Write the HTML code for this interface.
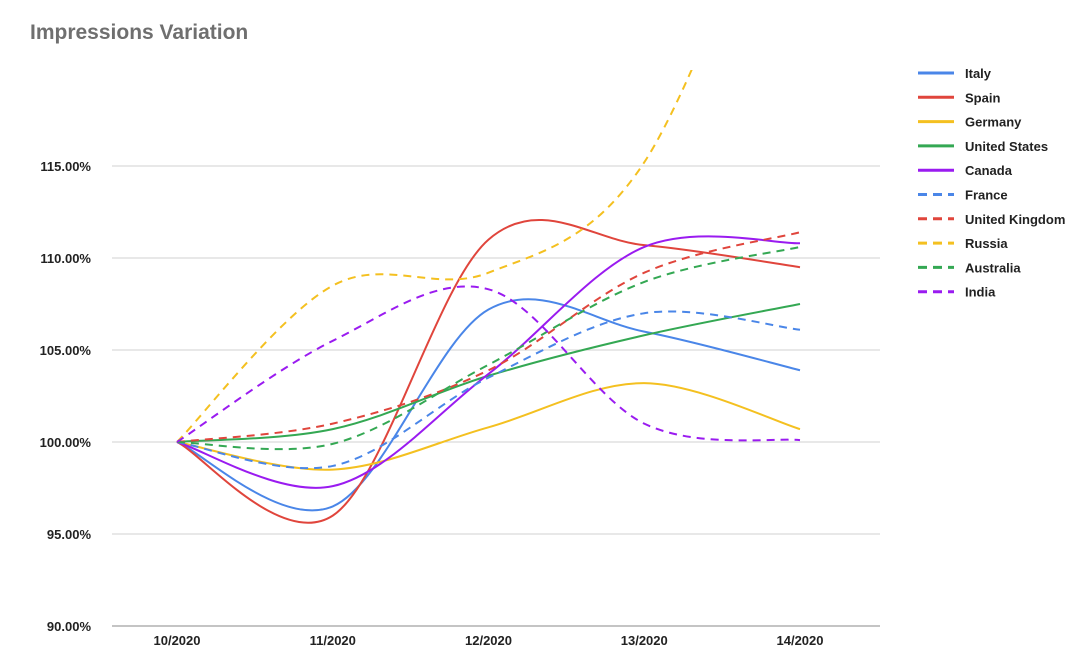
<!DOCTYPE html>
<html><head><meta charset="utf-8"><style>
body{margin:0;background:#fff;font-family:"Liberation Sans",Arial,sans-serif}
svg text{font-family:"Liberation Sans",Arial,sans-serif}
</style></head><body>
<svg id="chart" width="1092" height="661" viewBox="0 0 1092 661">
<defs><clipPath id="plotClip"><rect x="112" y="70" width="768" height="560"/></clipPath></defs>
<text x="30" y="39" font-size="21" font-weight="bold" fill="#6f6f6f">Impressions Variation</text>
<g id="grid"></g><g id="series" clip-path="url(#plotClip)"></g><g id="legend"></g>
</svg>
<script>
const categories=["10/2020","11/2020","12/2020","13/2020","14/2020"];
const seriesNames=["Italy","Spain","Germany","United States","Canada","France","United Kingdom","Russia","Australia","India"];
const italy=[100,96.5,107.2,106.0,103.9];
const spain=[100,96.0,111.0,110.7,109.5];
const germany=[100,98.5,100.8,103.2,100.7];
const unitedStates=[100,100.7,103.6,105.8,107.5];
const canada=[100,97.6,103.7,110.6,110.8];
const france=[100,98.7,103.5,107.0,106.1];
const unitedKingdom=[100,101.0,103.9,109.2,111.4];
const russia=[100,108.5,109.2,115.2,135];
const australia=[100,99.9,104.2,108.7,110.6];
const india=[100,105.5,108.3,101.0,100.1];
const yTicks=[90,95,100,105,110,115];
const colors=["#4a86e8","#e0453c","#f4c020","#34a853","#9a1bf0","#4a86e8","#e0453c","#f4c020","#34a853","#9a1bf0"];
const dashed=[false,false,false,false,false,true,true,true,true,true];
const allSeries=[italy,spain,germany,unitedStates,canada,france,unitedKingdom,russia,australia,india];
const NS="http://www.w3.org/2000/svg";
const xScale=i=>177+i*155.75;
const yScale=v=>442-(v-100)*18.4;
function mk(tag,attrs,parent){const e=document.createElementNS(NS,tag);for(const k in attrs)e.setAttribute(k,attrs[k]);parent.appendChild(e);return e;}
const grid=document.getElementById('grid');
yTicks.forEach(t=>{
  const l=mk('line',{x1:112,x2:880,y1:yScale(t),y2:yScale(t),stroke:t===90?'#888':'#d0d0d0','stroke-width':1},grid);
  
  
  const tx=mk('text',{x:91,y:yScale(t)+5,'text-anchor':'end','font-size':13,'font-weight':'bold',fill:'#222'},grid);
  tx.textContent=t.toFixed(2)+'%';
  
  
});
categories.forEach((c,i)=>{
  const tx=mk('text',{x:xScale(i),y:645,'text-anchor':'middle','font-size':13,'font-weight':'bold',fill:'#222'},grid);
  tx.textContent=c;
  
  
});
function pathFor(vals){
  const p=vals.map((v,i)=>[xScale(i),yScale(v)]);
  let d='M'+p[0][0]+','+p[0][1];
  for(let i=0;i<p.length-1;i++){
    const p0=p[i-1]||p[i],p1=p[i],p2=p[i+1],p3=p[i+2]||p[i+1];
    const c1=[p1[0]+(p2[0]-p0[0])/6,p1[1]+(p2[1]-p0[1])/6];
    const c2=[p2[0]-(p3[0]-p1[0])/6,p2[1]-(p3[1]-p1[1])/6];
    d+=' C'+c1+' '+c2+' '+p2;
  }
  return d;
}
const sg=document.getElementById('series');
allSeries.forEach((vals,k)=>{
  const a={d:pathFor(vals),fill:'none',stroke:colors[k],'stroke-width':2};
  if(dashed[k])a['stroke-dasharray']='8,6';
  const p=mk('path',a,sg);
  
  
});
const lg=document.getElementById('legend');
seriesNames.forEach((n,k)=>{
  const y=73+k*24.3;
  const a={x1:918,x2:954,y1:y,y2:y,stroke:colors[k],'stroke-width':3};
  if(dashed[k])a['stroke-dasharray']='9,6';
  const l=mk('line',a,lg);
  
  
  const t=mk('text',{x:965,y:y+5,'font-size':13,'font-weight':'bold',fill:'#222'},lg);
  t.textContent=n;
  
  
});
</script>
</body></html>
